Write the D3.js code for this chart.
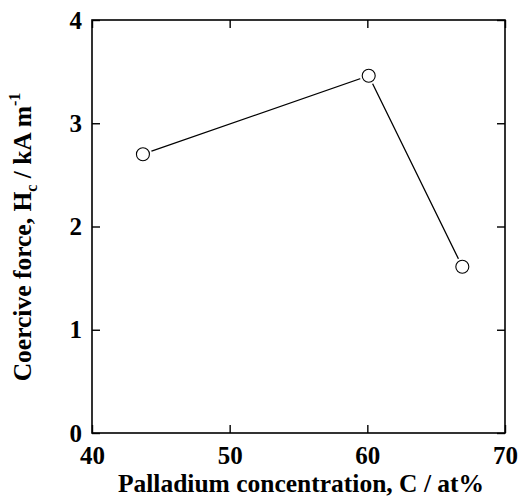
<!DOCTYPE html>
<html><head><meta charset="utf-8">
<script src="https://cdn.jsdelivr.net/npm/d3@7"></script>
<style>body{margin:0;background:#fff}svg{display:block}</style>
</head><body>
<script>
const concentration = [43.7, 60.1, 66.9];
const coerciveForce = [2.70, 3.46, 1.61];
const xTicks = [40, 50, 60, 70];
const yTicks = [0, 1, 2, 3, 4];

const W = 521, H = 497;
const m = {left: 92, right: 16, top: 20, bottom: 64};
const FONT = '"Liberation Serif","Times New Roman",serif';
const svg = d3.select("body").append("svg").attr("width", W).attr("height", H);
const x = d3.scaleLinear().domain([40, 70]).range([m.left, W - m.right]);
const y = d3.scaleLinear().domain([0, 4]).range([H - m.bottom, m.top]);

const tl = 8;
svg.append("rect").attr("x", x(40)).attr("y", y(4)).attr("width", x(70) - x(40)).attr("height", y(0) - y(4))
  .attr("fill", "none").attr("stroke", "#000").attr("stroke-width", 1.6);

const fmt = d3.format("d");
const ax = svg.append("g").attr("transform", `translate(0,${y(0)})`)
  .call(d3.axisBottom(x).tickValues(xTicks).tickFormat(fmt).tickSizeInner(-tl).tickSizeOuter(0).tickPadding(13));
const axT = svg.append("g").attr("transform", `translate(0,${y(4)})`)
  .call(d3.axisTop(x).tickValues(xTicks).tickSizeInner(-tl).tickSizeOuter(0).tickFormat(""));
const ay = svg.append("g").attr("transform", `translate(${x(40)},0)`)
  .call(d3.axisLeft(y).tickValues(yTicks).tickFormat(fmt).tickSizeInner(-tl).tickSizeOuter(0).tickPadding(10));
const ayR = svg.append("g").attr("transform", `translate(${x(70)},0)`)
  .call(d3.axisRight(y).tickValues(yTicks).tickSizeInner(-tl).tickSizeOuter(0).tickFormat(""));
[ax, axT, ay, ayR].forEach(g => {
  g.select(".domain").remove();
  g.selectAll(".tick line").attr("stroke", "#000").attr("stroke-width", 1.4);
  g.selectAll("text").style("font-size", "25px").style("font-family", FONT).style("font-weight", "bold").style("fill", "#000");
});

const pts = concentration.map((c, i) => [c, coerciveForce[i]]);
svg.append("path").datum(pts)
  .attr("d", d3.line().x(d => x(d[0])).y(d => y(d[1])))
  .attr("fill", "none").attr("stroke", "#000").attr("stroke-width", 1.3);
svg.selectAll("circle.halo").data(pts).join("circle").attr("class", "halo")
  .attr("cx", d => x(d[0])).attr("cy", d => y(d[1])).attr("r", 9).attr("fill", "#fff");
svg.selectAll("circle.pt").data(pts).join("circle").attr("class", "pt")
  .attr("cx", d => x(d[0])).attr("cy", d => y(d[1])).attr("r", 6.5)
  .attr("fill", "#fff").attr("stroke", "#000").attr("stroke-width", 1.1);

svg.append("text").attr("x", 301).attr("y", 492).attr("text-anchor", "middle")
  .style("font-size", "25.5px").style("font-family", FONT).style("font-weight", "bold")
  .text("Palladium concentration, C / at%");
const yt = svg.append("text").attr("transform", `translate(31,${237}) rotate(-90)`)
  .attr("text-anchor", "middle")
  .style("font-size", "25.5px").style("font-family", FONT).style("font-weight", "bold");
yt.append("tspan").text("Coercive force, H");
yt.append("tspan").style("font-size", "16px").attr("dy", 6).text("c");
yt.append("tspan").attr("dy", -6).text(" / kA m");
yt.append("tspan").style("font-size", "16px").attr("dy", -11).text("-1");
</script>
</body></html>
